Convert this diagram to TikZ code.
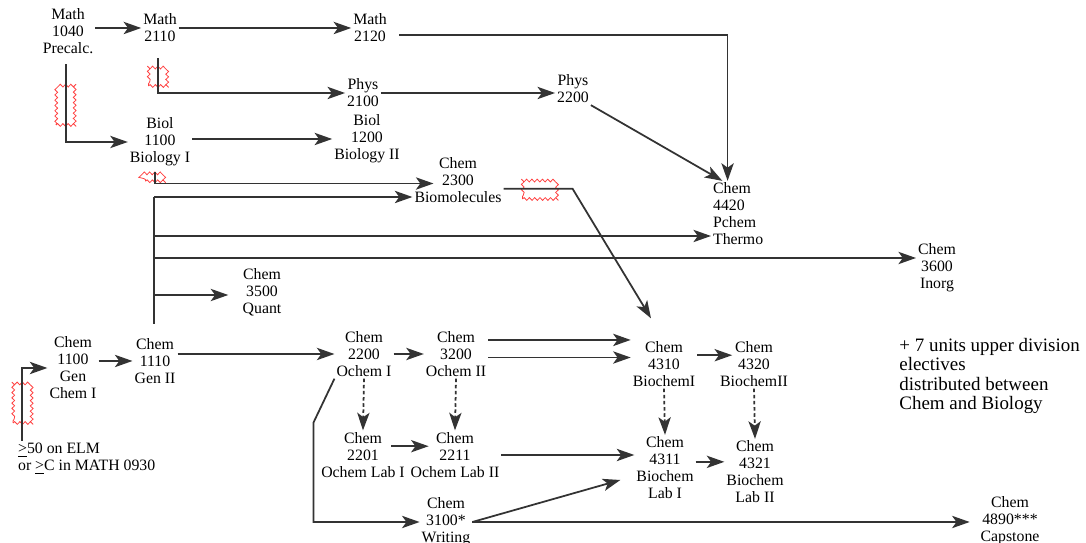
\documentclass[tikz,border=0pt]{standalone}
\usepackage{fontspec}
\setmainfont{Liberation Serif}
\usetikzlibrary{arrows.meta, decorations.pathmorphing}

\begin{document}
\begin{tikzpicture}[x=0.02cm, y=-0.02cm,
    course/.style={align=center, inner sep=1pt, font=\fontsize{9}{9.67}\selectfont},
    link/.style={draw=black!80, line width=1pt},
    arr/.style={link, -{Stealth[length=10pt, width=7pt, inset=2.5pt]}},
    lab/.style={arr, dash pattern=on 2pt off 1.5pt},
    wiggle/.style={draw=red!75, line width=0.45pt, inner sep=0pt, decorate,
        decoration={snake, segment length=3pt, amplitude=0.8pt}}]
    \useasboundingbox (0,0) rectangle (1086,543);

    % courses
    \node[course] (M1040) at (68,31)   {Math\\1040\\Precalc.};
    \node[course] (M2110) at (160,28)  {Math\\2110};
    \node[course] (M2120) at (370,28)  {Math\\2120};
    \node[course] (P2100) at (363,93)  {Phys\\2100};
    \node[course] (P2200) at (573,89)  {Phys\\2200};
    \node[course] (B1100) at (160,142) {Biol\\1100\\Biology I};
    \node[course] (B1200) at (367,139) {Biol\\1200\\Biology II};
    \node[course] (C2300) at (458,180) {Chem\\2300\\Biomolecules};
    \node[course, align=left, anchor=west] (C4420) at (711,214) {Chem\\4420\\Pchem\\Thermo};
    \node[course] (C3600) at (937,268) {Chem\\3600\\Inorg};
    \node[course] (C3500) at (262,292) {Chem\\3500\\Quant};
    \node[course] (C1100) at (73,368)  {Chem\\1100\\Gen\\Chem I};
    \node[course] (C1110) at (155,361) {Chem\\1110\\Gen II};
    \node[course] (C2200) at (364,354) {Chem\\2200\\Ochem I};
    \node[course] (C3200) at (456,354) {Chem\\3200\\Ochem II};
    \node[course] (C4310) at (664,364) {Chem\\4310\\BiochemI};
    \node[course] (C4320) at (754,364) {Chem\\4320\\BiochemII};
    \node[course] (C2201) at (363,455) {Chem\\2201\\Ochem Lab I};
    \node[course] (C2211) at (455,455) {Chem\\2211\\Ochem Lab II};
    \node[course] (C4311) at (665,468) {Chem\\4311\\Biochem\\Lab I};
    \node[course] (C4321) at (755,472) {Chem\\4321\\Biochem\\Lab II};
    \node[course] (C3100) at (446,522) {Chem\\3100*\\Writing};
    \node[course] (C4890) at (1010,521) {Chem\\4890***\\Capstone};

    \node[course, anchor=north west, align=left] (ELM) at (16,441)
        {\underline{>}50 on ELM\\or \underline{>}C in MATH 0930};
    \node[anchor=north west, align=left, inner sep=0pt,
        font=\fontsize{10.8}{11}\selectfont] (electives) at (899,338)
        {+ 7 units upper division\\electives\\distributed between\\Chem and Biology};

    % red marks
    \node[wiggle, minimum width=0.4cm,  minimum height=0.8cm]  (W1) at (66,105)  {};
    \node[wiggle, minimum width=0.38cm, minimum height=0.36cm] (W2) at (158,77)  {};
    \node[wiggle, minimum width=0.38cm, minimum height=0.17cm] (W3) at (155,177) {};
    \node[wiggle, minimum width=0.7cm,  minimum height=0.36cm] (W4) at (540,190) {};
    \node[wiggle, minimum width=0.4cm,  minimum height=0.76cm] (W5) at (23,404)  {};

    % trunk above Chem 1110
    \coordinate (T0) at (154,324);
    \coordinate (T1) at (154,197);
    \coordinate (T2) at (154,236);
    \coordinate (T3) at (154,258);
    \coordinate (T4) at (154,295);

    % math, physics and biology
    \draw[arr] (M1040.east |- M2110.west) -- (M2110.west);
    \draw[arr] (M2110) -- (M2120);
    \draw[arr] ([xshift=6pt, yshift=-4pt]M2120.east) -| ([xshift=-6pt]C4420.north);
    \draw[arr] ([xshift=-1pt, yshift=-8pt]M2110.south) |- (P2100.west);
    \draw[arr] (P2100.east) -- (P2100.east -| P2200.west);
    \draw[arr] (P2200.south east) -- ([xshift=-9pt]C4420.north);
    \draw[arr] ([xshift=-1pt, yshift=-5pt]M1040.south) |- (B1100.west);
    \draw[arr] (B1100.east |- B1200.west) -- (B1200.west);
    \draw[arr] ([xshift=-3pt, yshift=-2pt]B1100.south) |- ([xshift=12pt, yshift=-2pt]C2300.west);

    % chemistry
    \draw[link] (T0) -- (T1);
    \draw[arr] (T1) -- (T1 -| C2300.west);
    \draw[arr] (T2) -- (T2 -| C4420.west);
    \draw[arr] (T3) -- (T3 -| C3600.west);
    \draw[arr, shorten >=7pt] (T4) -- (T4 -| C3500.west);
    \draw[arr] ([yshift=-5pt]C2300.east) -- ++(69,0) -- ([shift={(-13,-21)}]C4310.north);
    \draw[arr] ([xshift=3.5pt]ELM.north west) |- (C1100.west);
    \draw[arr] (C1100.east |- C1110.west) -- (C1110.west);
    \draw[arr] (C1110.east |- C2200.west) -- (C2200.west);
    \draw[arr] (C2200.east) -- (C3200.west);
    \draw[arr] ([yshift=8pt]C3200.east) -- ([yshift=8pt]C3200.east -| C4310.west);
    \draw[arr] ([yshift=-2pt]C3200.east) -- ([yshift=-2pt]C3200.east -| C4310.west);
    \draw[arr] ([yshift=5pt]C4310.east) -- ([xshift=8pt, yshift=5pt]C4320.west);
    \draw[lab] (C2200.south) -- (C2201.north);
    \draw[lab] (C3200.south) -- (C2211.north);
    \draw[lab] (C4310.south) -- (C4311.north);
    \draw[lab] (C4320.south) -- (C4321.north);
    \draw[arr] ([xshift=16pt, yshift=5pt]C2201.center) -- ([xshift=-15pt, yshift=5pt]C2211.center);
    \draw[arr] (C2211.east) -- (C2211.east -| C4311.west);
    \draw[arr] ([yshift=3.5pt]C4311.east) -- ([yshift=3.5pt]C4311.east -| C4321.west);
    \draw[arr] (C2200.south west) -- ++(-21,44) |- (C3100.west);
    \draw[arr] (C3100.east) -- ([shift={(-14,12)}]C4311.west);
    \draw[arr] (C3100.east) -- ([xshift=-5pt]C3100.east -| C4890.west);
\end{tikzpicture}
\end{document}
